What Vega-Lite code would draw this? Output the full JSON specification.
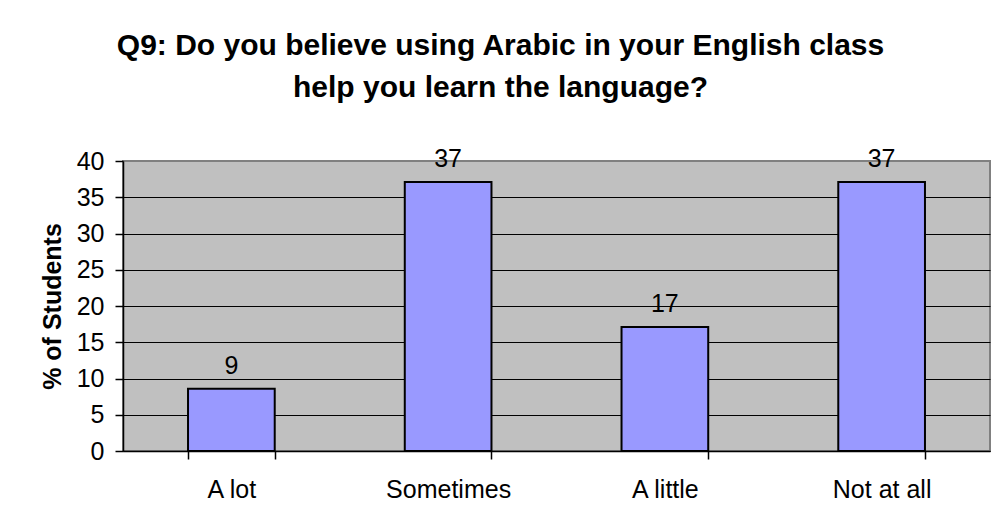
{
  "$schema": "https://vega.github.io/schema/vega-lite/v6.json",
  "width": 867,
  "height": 290,
  "autosize": "none",
  "padding": {"left": 123, "top": 161, "right": 7, "bottom": 76},
  "background": "white",
  "title": {
    "text": ["Q9: Do you believe using Arabic in your English class", "help you learn the language?"],
    "font": "Liberation Sans",
    "fontSize": 30,
    "fontWeight": "bold",
    "color": "black",
    "anchor": "middle",
    "frame": "group",
    "dx": -56,
    "lineHeight": 42,
    "offset": 44
  },
  "data": {
    "values": [
      {"c": "A lot", "v": 8.6},
      {"c": "Sometimes", "v": 37.1},
      {"c": "A little", "v": 17.1},
      {"c": "Not at all", "v": 37.1}
    ]
  },
  "encoding": {
    "x": {
      "field": "c",
      "type": "nominal",
      "sort": null,
      "scale": {"paddingInner": 0.6, "paddingOuter": 0.3},
      "axis": {
        "title": null,
        "labelAngle": 0,
        "tickBand": "extent",
        "tickSize": 8,
        "tickColor": "black",
        "tickWidth": 1.5,
        "domainColor": "black",
        "domainWidth": 1.5,
        "labelFont": "Liberation Sans",
        "labelFontSize": 25,
        "labelColor": "black",
        "labelPadding": 18
      }
    },
    "y": {
      "field": "v",
      "type": "quantitative",
      "scale": {"domain": [0, 40], "nice": false},
      "axis": {
        "title": "% of Students",
        "titleFont": "Liberation Sans",
        "titleFontSize": 25,
        "titleFontWeight": "bold",
        "titleColor": "black",
        "titlePadding": 11,
        "values": [0, 5, 10, 15, 20, 25, 30, 35, 40],
        "grid": true,
        "gridColor": {"condition": {"test": "datum.value == 40", "value": "#808080"}, "value": "black"},
        "gridWidth": 1.2,
        "tickSize": 8,
        "tickColor": "black",
        "tickWidth": 1.5,
        "domainColor": "black",
        "domainWidth": 1.5,
        "labelFont": "Liberation Sans",
        "labelFontSize": 25,
        "labelColor": "black",
        "labelPadding": 11
      }
    }
  },
  "layer": [
    {
      "mark": {"type": "bar", "fill": "#9999FF", "stroke": "black", "strokeWidth": 2}
    },
    {
      "mark": {"type": "text", "font": "Liberation Sans", "fontSize": 25, "color": "black", "baseline": "bottom", "dy": -10},
      "encoding": {"text": {"field": "v", "type": "quantitative", "format": ".0f"}}
    }
  ],
  "config": {
    "view": {"fill": "#C0C0C0", "stroke": "#808080", "strokeWidth": 2}
  }
}
